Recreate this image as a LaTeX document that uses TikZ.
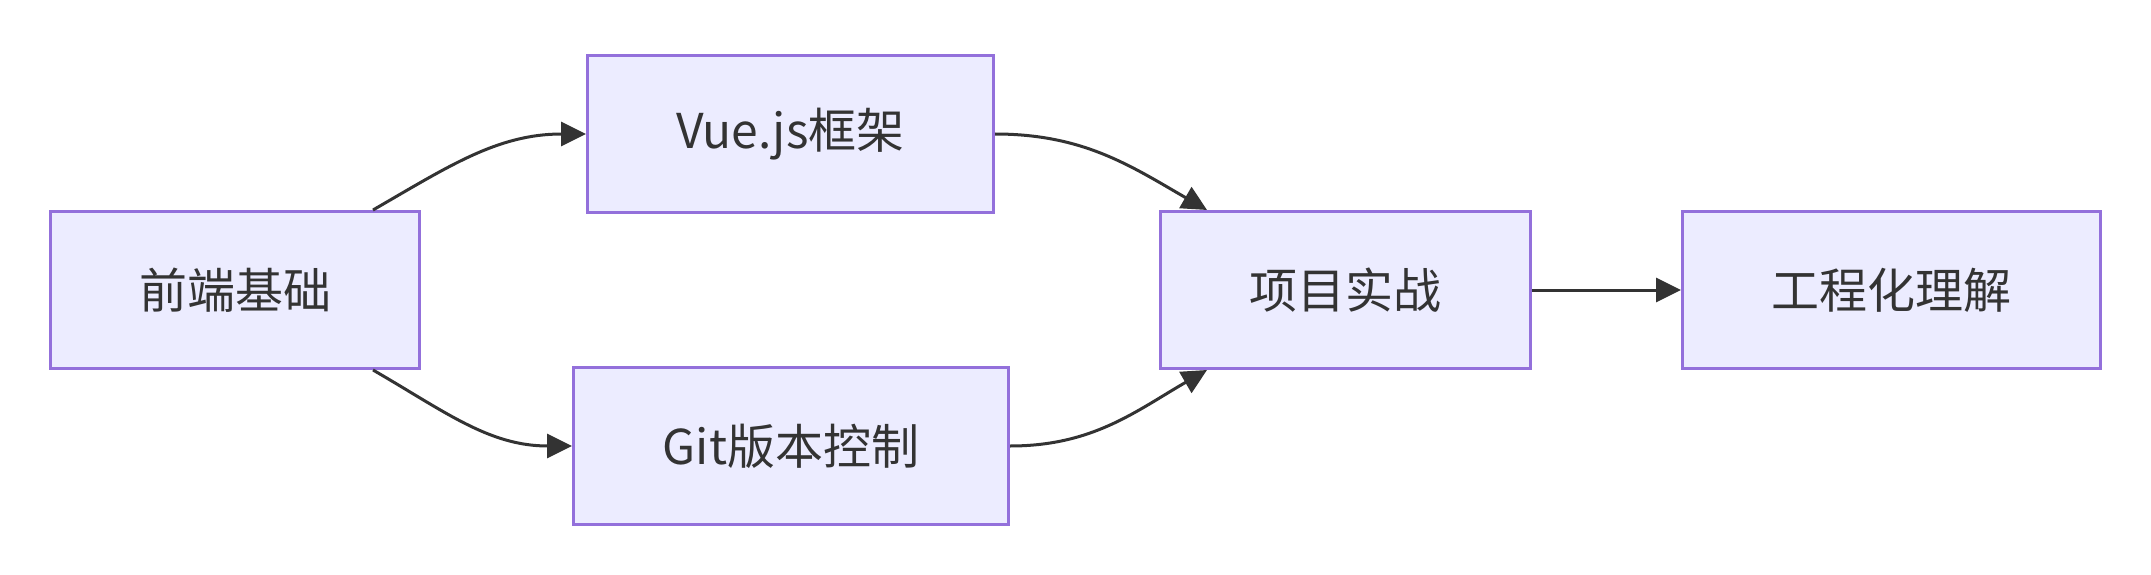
\documentclass[tikz,border=0pt]{standalone}
\usepackage{fontspec}
\setmainfont{Noto Sans CJK SC}
\usetikzlibrary{arrows.meta}
\definecolor{boxfill}{HTML}{ECECFF}
\definecolor{boxline}{HTML}{9370DB}
\definecolor{ink}{HTML}{333333}

\begin{document}
\begin{tikzpicture}[x=1pt,y=1pt,
  box/.style={draw=boxline,fill=boxfill,line width=1.5pt,minimum height=78.5pt,
    text=ink,font=\fontsize{24}{28}\selectfont,inner sep=0pt},
  arr/.style={draw=ink,line width=1.5pt,-{Triangle[length=12.5pt,width=12pt]}}]

\useasboundingbox (0,0) rectangle (1075.5,287);

\node[box,minimum width=184.5pt] (fe) at (117.5,142) {前端基础};
\node[box,minimum width=203pt] (vue) at (395.25,220) {Vue.js框架};
\node[box,minimum width=217.5pt] (git) at (395.5,64) {Git版本控制};
\node[box,minimum width=185pt] (proj) at (672.75,142) {项目实战};
\node[box,minimum width=209pt] (eng) at (945.75,142) {工程化理解};

\path ([xshift=-24pt]fe.north east) edge[arr,out=30,in=180] (vue.west)
  ([xshift=-24pt]fe.south east) edge[arr,out=-30,in=180] (git.west)
  (vue.east) edge[arr,out=0,in=150] ([xshift=24pt]proj.north west)
  (git.east) edge[arr,out=0,in=-150] ([xshift=24pt]proj.south west)
  (proj.east) edge[arr] (eng.west);

\end{tikzpicture}
\end{document}
